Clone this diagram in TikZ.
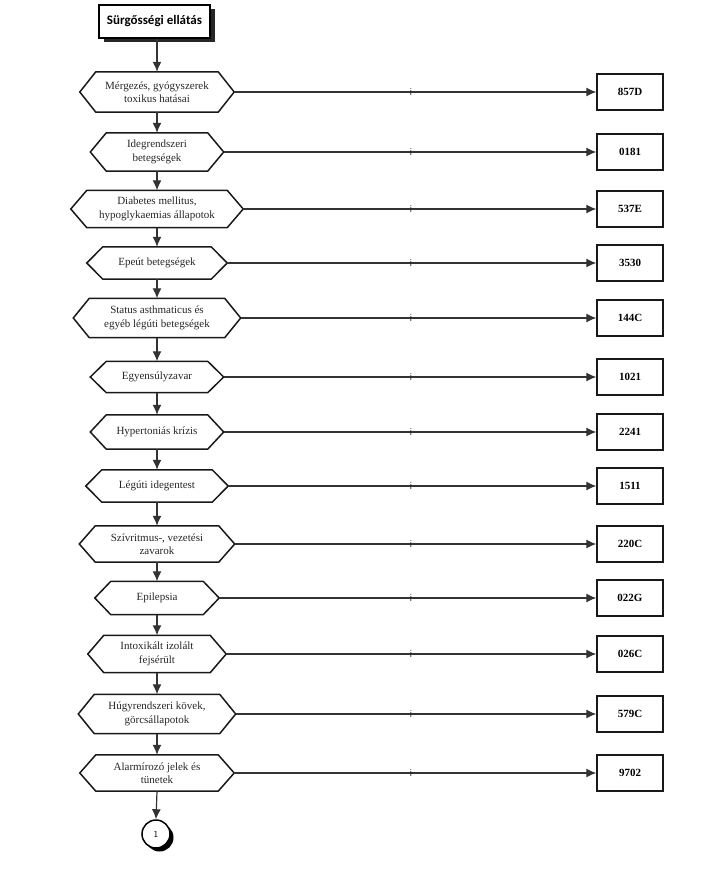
\documentclass[tikz,border=0pt]{standalone}
\usepackage{fontspec}
\setmainfont{Liberation Serif}
\newfontfamily\titlefont{Carlito}
\newfontfamily\labfont{Liberation Sans}
\usetikzlibrary{arrows.meta,shadows,calc}
\begin{document}
\begin{tikzpicture}[x=1pt,y=-1pt,
  hexa/.style={draw=none, align=center, font=\fontsize{11}{13.5}\selectfont, text=black!85, inner sep=0pt},
  hexline/.style={line width=1.5pt, draw=black!90},
  codebox/.style={draw=black!90, line width=1.5pt, minimum width=66pt, minimum height=36pt, font=\bfseries\fontsize{11}{13}\selectfont, inner sep=0pt},
  conn/.style={line width=1.2pt, draw=black!80, -{Latex[length=10pt,width=9pt]}},
  ilab/.style={font=\labfont\fontsize{9.5}{10}\selectfont, text=black!85, inner sep=0pt},
  titlebox/.style={draw, line width=1.8pt, fill=white, minimum width=111pt, minimum height=33pt, font=\titlefont\bfseries\fontsize{13}{15}\selectfont, drop shadow={opacity=1, fill=black!85, shadow xshift=4.5pt, shadow yshift=-4.5pt}},
  connector/.style={circle, draw, line width=1.5pt, fill=white, minimum size=28pt, inner sep=0pt, font=\sffamily\fontsize{9}{10}\selectfont, drop shadow={opacity=1, fill=black, shadow xshift=3.5pt, shadow yshift=-3.5pt}}]
\useasboundingbox (0,0) rectangle (713,890);

\node[titlebox] (title) at (154.5,21.5) {Sürgősségi ellátás};

\node[hexa, minimum width=122pt, minimum height=40pt] (h1) at (157,92) {Mérgezés, gyógyszerek\\toxikus hatásai};
\node[hexa, minimum width=101pt, minimum height=38pt] (h2) at (157,152) {Idegrendszeri\\betegségek};
\node[hexa, minimum width=140pt, minimum height=37pt] (h3) at (157,209) {Diabetes mellitus,\\hypoglykaemias állapotok};
\node[hexa, minimum width=108pt, minimum height=32pt] (h4) at (157,263) {Epeút betegségek};
\node[hexa, minimum width=135pt, minimum height=39pt] (h5) at (157,318) {Status asthmaticus és\\egyéb légúti betegségek};
\node[hexa, minimum width=101pt, minimum height=31pt] (h6) at (157,377) {Egyensúlyzavar};
\node[hexa, minimum width=101pt, minimum height=34pt] (h7) at (157,432) {Hypertoniás krízis};
\node[hexa, minimum width=110pt, minimum height=32pt] (h8) at (157,486) {Légúti idegentest};
\node[hexa, minimum width=123pt, minimum height=36pt] (h9) at (157,544) {Szívritmus-, vezetési\\zavarok};
\node[hexa, minimum width=92pt, minimum height=33pt] (h10) at (157,598) {Epilepsia};
\node[hexa, minimum width=106pt, minimum height=37pt] (h11) at (157,654) {Intoxikált izolált\\fejsérült};
\node[hexa, minimum width=125pt, minimum height=39pt] (h12) at (157,714) {Húgyrendszeri kövek,\\görcsállapotok};
\node[hexa, minimum width=122pt, minimum height=36pt] (h13) at (157,773) {Alarmírozó jelek és\\tünetek};

\foreach \n in {1,...,13}{
  \draw[hexline] (h\n.north west) -- (h\n.north east) -- ([xshift=16pt]h\n.east) -- (h\n.south east) -- (h\n.south west) -- ([xshift=-16pt]h\n.west) -- cycle;
  \coordinate (t\n) at ([xshift=16pt]h\n.east);
}

\node[codebox] (b1) at (630,92) {857D};
\node[codebox] (b2) at (630,152) {0181};
\node[codebox] (b3) at (630,209) {537E};
\node[codebox] (b4) at (630,263) {3530};
\node[codebox] (b5) at (630,318) {144C};
\node[codebox] (b6) at (630,377) {1021};
\node[codebox] (b7) at (630,432) {2241};
\node[codebox] (b8) at (630,486) {1511};
\node[codebox] (b9) at (630,544) {220C};
\node[codebox] (b10) at (630,598) {022G};
\node[codebox] (b11) at (630,654) {026C};
\node[codebox] (b12) at (630,714) {579C};
\node[codebox] (b13) at (630,773) {9702};

\node[connector] (c1) at (156,834) {1};

\coordinate (ix) at (411,0);
\foreach \n in {1,...,13}{
  \draw[conn] (t\n) -- (b\n.west);
}
\foreach \n in {1,...,13}{
  \node[ilab] (i\n) at (b\n.west -| ix) {i};
}

\draw[conn] (title.south -| h1.north) -- (h1.north);
\foreach \n [evaluate=\n as \m using int(\n+1)] in {1,...,12}{
  \draw[conn] (h\n.south) -- (h\m.north);
}
\draw[conn] (h13.south) -- (c1.north);
\end{tikzpicture}
\end{document}
